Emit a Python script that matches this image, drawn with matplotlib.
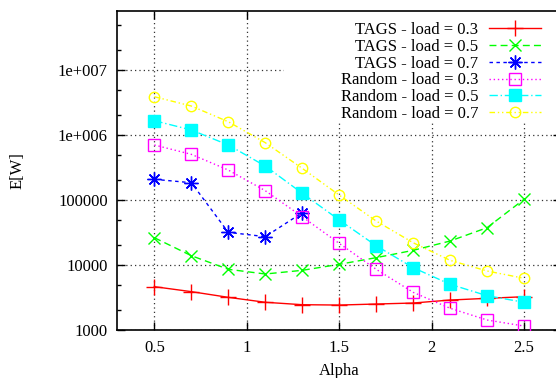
import matplotlib
matplotlib.use("Agg")
import matplotlib.pyplot as plt
from matplotlib.patches import Rectangle
import numpy as np

alpha = [0.5, 0.7, 0.9, 1.1, 1.3, 1.5, 1.7, 1.9, 2.1, 2.3, 2.5]
tags_03 = [4640, 3890, 3180, 2670, 2450, 2420, 2510, 2600, 2890, 3070, 3250]
tags_05 = [26300, 13900, 8590, 7270, 8280, 10240, 12970, 16800, 23400, 37500, 102500]
alpha_tags07 = [0.5, 0.7, 0.9, 1.1, 1.3]
tags_07 = [208000, 184500, 31800, 27300, 63800]
rand_03 = [702000, 504000, 289000, 139000, 55300, 21500, 8590, 3800, 2160, 1425, 1150]
rand_05 = [1660000, 1194000, 702000, 333000, 127000, 49300, 19800, 9100, 5050, 3370, 2670]
rand_07 = [3880000, 2790000, 1600000, 762000, 307000, 119000, 47500, 22000, 11800, 8090, 6240]

labels = ["TAGS - load = 0.3", "TAGS - load = 0.5", "TAGS - load = 0.7",
          "Random - load = 0.3", "Random - load = 0.5", "Random - load = 0.7"]
xticks = [0.5, 1, 1.5, 2, 2.5]
xticklabels = ["0.5", "1", "1.5", "2", "2.5"]
yticks = [1e3, 1e4, 1e5, 1e6, 1e7]
yticklabels = ["1000", "10000", "100000", "1e+006", "1e+007"]

plt.rcParams['font.family'] = ['Liberation Serif', 'DejaVu Serif']
fs = 12

fig = plt.figure(figsize=(5.56, 3.78), dpi=100)
W, H = 556, 378
left, right, top, bottom = 117.4, 561, 11, 330
aw, ah = right - left, bottom - top
ax = fig.add_axes([left / W, (H - bottom) / H, aw / W, ah / H])

def px2ax(x, y):
    return (x - left) / aw, (bottom - y) / ah

asterisk = (8, 2, 0)
series = [
    (alpha, tags_03, '#ff0000', '-', '+', 'full'),
    (alpha, tags_05, '#00ff00', (0, (5, 3)), 'x', 'full'),
    (alpha_tags07, tags_07, '#0000ff', (0, (2.5, 2.5)), asterisk, 'full'),
    (alpha, rand_03, '#ff00ff', (0, (1, 2)), 's', 'none'),
    (alpha, rand_05, '#00ffff', (0, (6, 2, 1, 2)), 's', 'full'),
    (alpha, rand_07, '#ffff00', (0, (4, 2, 1, 2, 1, 2)), 'o', 'none'),
]
msizes = [11, 9, 10, 8, 8.5, 7.5]
for (xs, ys, c, ls, m, fill), lab, ms in zip(series, labels, msizes):
    kw = dict(color=c, linestyle=ls, linewidth=1.0, marker=m, markersize=ms,
              markeredgewidth=1.0, label=lab, zorder=3)
    if fill == 'none':
        kw['markerfacecolor'] = 'none'
    ax.plot(xs, ys, **kw)

ax.set_yscale('log')
ax.set_xlim(0.3, 2.7)
ax.set_ylim(1000, 10 ** (7 + 59 / 65))
ax.set_xticks(xticks)
ax.set_xticklabels(xticklabels, fontsize=fs)
ax.set_yticks(yticks)
ax.set_yticklabels(yticklabels, fontsize=fs)
ax.yaxis.set_minor_locator(matplotlib.ticker.LogLocator(base=10, subs=[2, 5]))
ax.yaxis.set_minor_formatter(matplotlib.ticker.NullFormatter())
ax.xaxis.set_minor_locator(matplotlib.ticker.NullLocator())
ax.tick_params(which='both', direction='in', top=True, right=True)
ax.tick_params(which='major', length=5.5, width=1)
ax.tick_params(axis='y', which='major', pad=7)
ax.tick_params(axis='x', which='major', pad=7)
ax.tick_params(which='minor', length=3, width=1)
for s in ax.spines.values():
    s.set_linewidth(1.2)
ax.grid(True, which='major', color='#333333', linestyle=(0, (1, 2.5)), linewidth=0.9)
ax.set_axisbelow(True)

# white key area covering the grid (as in the gnuplot key box)
kx0, ky0 = px2ax(284, 121)
ax.add_patch(Rectangle((kx0, ky0), 1.0 - kx0, 1.0 - ky0, transform=ax.transAxes,
                       facecolor='white', edgecolor='none', zorder=1))

ax.set_xlabel('Alpha', fontsize=fs)
ax.xaxis.set_label_coords(0.5, px2ax(0, 363)[1])
ax.set_ylabel('E[W]', fontsize=fs)
ax.yaxis.set_label_coords(px2ax(26, 0)[0], px2ax(0, 171)[1])

lx, ly = px2ax(541, 22)
leg = ax.legend(loc='upper right', bbox_to_anchor=(lx, ly),
                markerfirst=False, fontsize=fs, frameon=False,
                handlelength=3.12, handletextpad=0.66, labelspacing=0.05,
                borderpad=0.0, borderaxespad=0.0, numpoints=1)

fig.savefig('out.png', dpi=100)
